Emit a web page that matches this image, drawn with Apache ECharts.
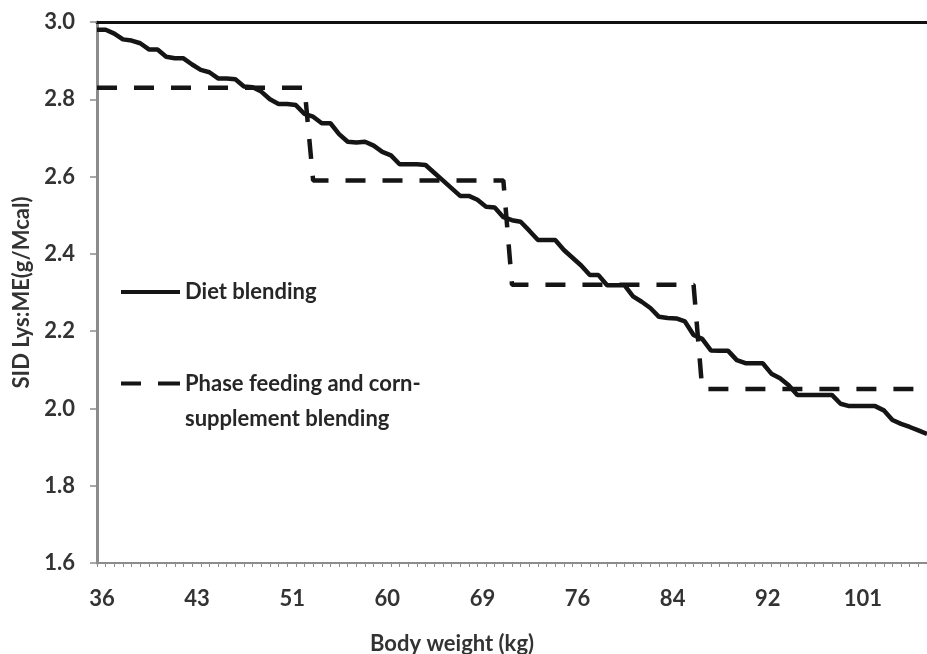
<!DOCTYPE html>
<html>
<head>
<meta charset="utf-8">
<title>SID Lys:ME</title>
<script src="https://cdn.jsdelivr.net/npm/echarts@6/dist/echarts.min.js"></script>
<style>
  html, body { margin: 0; padding: 0; background: #fff; }
  #chart { width: 927px; height: 654px; }
</style>
</head>
<body>
<div id="chart"></div>
<script>
// body weight (kg), one category per tick; only every 11th is labelled
var weights = [
  36, 36.6, 37.3, 37.9, 38.5, 39.2, 39.8, 40.5, 41.1, 41.7, 42.4,
  43, 43.7, 44.5, 45.2, 45.9, 46.6, 47.4, 48.1, 48.8, 49.5, 50.3,
  51, 51.8, 52.6, 53.5, 54.3, 55.1, 55.9, 56.7, 57.5, 58.4, 59.2,
  60, 60.8, 61.6, 62.5, 63.3, 64.1, 64.9, 65.7, 66.5, 67.4, 68.2,
  69, 69.6, 70.3, 70.9, 71.5, 72.2, 72.8, 73.5, 74.1, 74.7, 75.4,
  76, 76.7, 77.5, 78.2, 78.9, 79.6, 80.4, 81.1, 81.8, 82.5, 83.3,
  84, 84.7, 85.5, 86.2, 86.9, 87.6, 88.4, 89.1, 89.8, 90.5, 91.3,
  92, 92.8, 93.6, 94.5, 95.3, 96.1, 96.9, 97.7, 98.5, 99.4, 100.2,
  101, 101.8, 102.6, 103.4, 104.2, 105, 105.8, 106.6, 107.4
];

var dietBlending = [
  2.98, 2.98, 2.97, 2.955, 2.952, 2.945, 2.929, 2.929, 2.91, 2.906, 2.906,
  2.89, 2.876, 2.87, 2.854, 2.854, 2.852, 2.833, 2.831, 2.82, 2.80, 2.788,
  2.788, 2.785, 2.762, 2.755, 2.738, 2.738, 2.71, 2.69, 2.688, 2.69, 2.68,
  2.664, 2.655, 2.632, 2.632, 2.632, 2.63, 2.61, 2.59, 2.57, 2.55, 2.55,
  2.54, 2.522, 2.52, 2.495, 2.487, 2.483, 2.46, 2.436, 2.436, 2.436, 2.41,
  2.39, 2.37, 2.345, 2.345, 2.319, 2.319, 2.319, 2.29, 2.276, 2.26, 2.237,
  2.234, 2.233, 2.225, 2.19, 2.18, 2.15, 2.149, 2.149, 2.125, 2.117, 2.117,
  2.117, 2.09, 2.078, 2.06, 2.035, 2.035, 2.035, 2.035, 2.035, 2.012, 2.006,
  2.006, 2.006, 2.006, 1.995, 1.97, 1.96, 1.952, 1.943, 1.934
];

var phaseFeeding = [
  2.83, 2.83, 2.83, 2.83, 2.83, 2.83, 2.83, 2.83, 2.83, 2.83, 2.83,
  2.83, 2.83, 2.83, 2.83, 2.83, 2.83, 2.83, 2.83, 2.83, 2.83, 2.83,
  2.83, 2.83, 2.83, 2.59, 2.59, 2.59, 2.59, 2.59, 2.59, 2.59, 2.59,
  2.59, 2.59, 2.59, 2.59, 2.59, 2.59, 2.59, 2.59, 2.59, 2.59, 2.59,
  2.59, 2.59, 2.59, 2.59, 2.32, 2.32, 2.32, 2.32, 2.32, 2.32, 2.32,
  2.32, 2.32, 2.32, 2.32, 2.32, 2.32, 2.32, 2.32, 2.32, 2.32, 2.32,
  2.32, 2.32, 2.32, 2.32, 2.05, 2.05, 2.05, 2.05, 2.05, 2.05, 2.05,
  2.05, 2.05, 2.05, 2.05, 2.05, 2.05, 2.05, 2.05, 2.05, 2.05, 2.05,
  2.05, 2.05, 2.05, 2.05, 2.05, 2.05, 2.05, 2.05, 2.05
];

var yMin = 1.6;
var yMax = 3.0;
var yStep = 0.2;

var font = 'Lato, "Open Sans", sans-serif';
var gray = '#8c8c8c';
var ink = '#333333';
var lineInk = '#151515';

var legendText = {
  fontFamily: font,
  fontWeight: 'bold',
  fontSize: 22,
  color: '#262626'
};

var myChart = echarts.init(document.getElementById('chart'), null, { renderer: 'canvas' });

myChart.setOption({
  animation: false,
  backgroundColor: '#fff',
  grid: {
    left: 97,
    right: 0,
    top: 22,
    bottom: 91,
    containLabel: false,
    outerBoundsMode: 'none'
  },
  legend: [
    {
      data: ['Diet blending'],
      left: 121,
      top: 279,
      padding: 0,
      itemWidth: 59,
      itemHeight: 4,
      selectedMode: false,
      icon: 'path://M0 0H59V4H0Z',
      itemStyle: { color: lineInk },
      textStyle: Object.assign({ lineHeight: 26 }, legendText)
    },
    {
      data: ['Phase feeding and corn-\nsupplement blending'],
      left: 121,
      top: 331,
      padding: 0,
      itemWidth: 59,
      itemHeight: 4,
      selectedMode: false,
      icon: 'path://M0 0H20V4H0Z M37 0H59V4H37Z',
      itemStyle: { color: lineInk },
      // blank first line keeps the icon level with the first text line
      formatter: function (name) {
        return '\n' + name;
      },
      textStyle: Object.assign({ lineHeight: 35 }, legendText)
    }
  ],
  xAxis: [
    {
      type: 'category',
      data: weights,
      boundaryGap: false,
      name: 'Body weight (kg)',
      nameLocation: 'middle',
      nameGap: 70,
      nameTextStyle: {
        fontFamily: font,
        fontWeight: 'bold',
        fontSize: 22,
        color: ink,
        padding: [0, 120, 0, 0]
      },
      axisLine: {
        onZero: false,
        lineStyle: { color: gray, width: 2 }
      },
      axisTick: {
        show: true,
        interval: 0,
        length: 4,
        lineStyle: { color: gray, width: 1 }
      },
      axisLabel: {
        interval: 10,
        margin: 25,
        fontFamily: font,
        fontWeight: 'bold',
        fontSize: 22,
        color: ink,
        padding: [0, 0, 0, 10]
      },
      splitLine: { show: false }
    },
    {
      // heavy black border along the top of the plot
      type: 'category',
      data: weights,
      boundaryGap: false,
      position: 'top',
      axisLine: {
        onZero: false,
        lineStyle: { color: '#111', width: 3 }
      },
      axisTick: { show: false },
      axisLabel: { show: false },
      splitLine: { show: false }
    }
  ],
  yAxis: {
    type: 'value',
    min: yMin,
    max: yMax,
    interval: yStep,
    name: 'SID Lys:ME(g/Mcal)',
    nameLocation: 'middle',
    nameGap: 61,
    nameTextStyle: {
      fontFamily: font,
      fontWeight: 'bold',
      fontSize: 22,
      color: ink
    },
    axisLine: {
      show: true,
      lineStyle: { color: gray, width: 3 }
    },
    axisTick: {
      show: true,
      length: 7,
      lineStyle: { color: gray, width: 1.5 }
    },
    axisLabel: {
      margin: 22,
      fontFamily: font,
      fontWeight: 'bold',
      fontSize: 22,
      color: ink,
      formatter: function (v) {
        return v.toFixed(1);
      }
    },
    splitLine: { show: false }
  },
  series: [
    {
      name: 'Diet blending',
      type: 'line',
      data: dietBlending,
      symbol: 'none',
      itemStyle: { color: lineInk },
      lineStyle: { color: lineInk, width: 4.5 }
    },
    {
      name: 'Phase feeding and corn-\nsupplement blending',
      type: 'line',
      data: phaseFeeding,
      symbol: 'none',
      itemStyle: { color: lineInk },
      lineStyle: { color: lineInk, width: 4.5, type: [20, 17], cap: 'butt' }
    }
  ]
});

window.addEventListener('resize', function () {
  myChart.resize();
});
</script>
</body>
</html>
